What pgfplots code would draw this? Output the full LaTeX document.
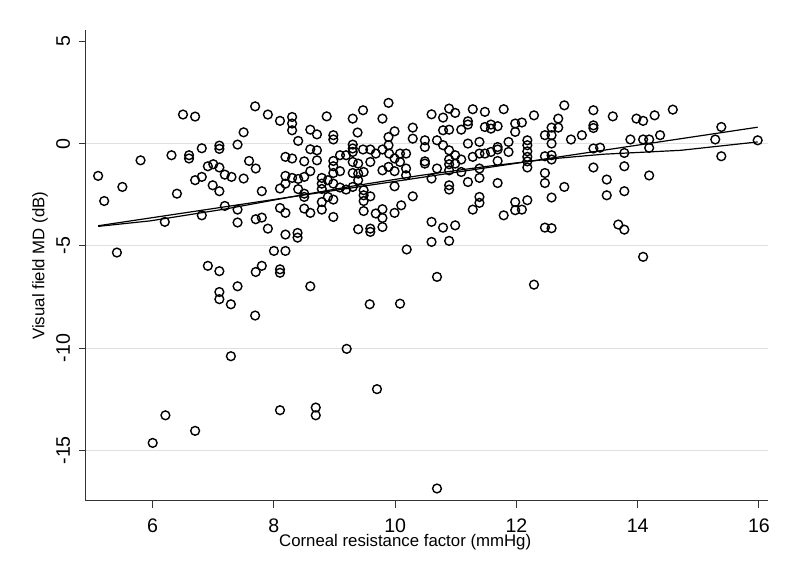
\documentclass[border=0pt]{standalone}
\usepackage{fontspec}
\setmainfont{Liberation Sans}
\usepackage{pgfplots}
\pgfplotsset{compat=1.18}
\begin{document}
\begin{tikzpicture}
\useasboundingbox (-43pt,-43pt) rectangle (357pt,250.5pt);
\begin{axis}[
  at={(0,0)}, anchor=south west,
  scale only axis, width=341pt, height=235.35pt,
  xmin=4.9, xmax=16.15, ymin=-17.48, ymax=5.54,
  axis x line*=bottom, axis y line*=left,
  xtick={6,8,10,12,14,16},
  ytick={-15,-10,-5,0}, extra y ticks={5}, extra y tick style={ymajorgrids=false},
  ymajorgrids, major grid style={draw=black!12, line width=0.5pt},
  tick align=outside, major tick length=3.3pt,
  tick style={black!80, line width=0.5pt},
  axis line style={black!80, line width=0.5pt},
  /pgf/number format/assume math mode=true,
  ticklabel style={font=\fontsize{9.8}{10}\selectfont, inner sep=0pt},
  xticklabel style={anchor=north},
  xticklabel shift=5.4pt,
  yticklabel style={rotate=90, anchor=base},
  yticklabel shift=4.7pt,
  label style={font=\fontsize{8.4}{10}\selectfont, inner sep=0pt},
  xlabel={Corneal resistance factor (mmHg)},
  ylabel={Visual field MD (dB)},
  xlabel style={at={(axis description cs:0.468,-0.0885)}, anchor=center},
  ylabel style={at={(axis description cs:-0.0674,0.5)}, anchor=center},
  clip=false,
]
\addplot[only marks, mark=o, mark size=2.2pt, mark options={line width=0.7pt, draw=black}] table {
x y
5.10 -1.58
5.20 -2.81
5.50 -2.12
5.41 -5.33
5.80 -0.82
6.20 -3.83
6.31 -0.57
6.40 -2.45
6.50 1.42
6.70 1.32
6.60 -0.57
6.60 -0.73
6.70 -1.79
6.81 -1.63
6.81 -0.23
6.81 -3.51
6.91 -1.11
7.00 -1.01
7.10 -1.17
6.99 -2.04
7.10 -2.33
7.10 -0.10
7.10 -0.26
7.19 -1.52
7.30 -1.63
7.19 -3.05
7.40 -3.23
7.40 -0.05
7.50 0.55
7.59 -0.85
7.70 -1.22
7.50 -1.71
7.40 -3.86
7.69 1.82
7.80 -2.33
7.70 -3.70
7.80 -3.62
7.90 -4.16
7.90 1.42
8.10 1.11
8.00 -5.25
8.19 -5.25
6.91 -5.98
7.10 -6.24
7.70 -6.28
7.80 -5.98
8.10 -6.15
8.10 -6.32
8.10 -2.20
8.10 -3.15
8.19 -0.65
8.30 -0.73
8.19 -1.58
8.19 -1.96
8.19 -3.39
8.19 -4.45
8.39 -4.37
8.39 -4.60
8.30 -1.68
8.40 -1.73
8.40 -2.23
8.40 0.13
8.30 1.30
8.30 0.98
8.30 0.65
8.50 -0.87
8.50 -1.63
8.50 -2.45
8.50 -2.61
8.50 -3.18
8.60 0.68
8.71 0.45
8.60 -0.28
8.71 -0.33
8.71 -0.82
8.60 -1.35
8.60 -3.39
8.79 -1.68
8.79 -1.96
8.79 -2.22
8.79 -2.86
8.79 -3.23
8.87 1.33
8.89 -1.79
8.89 -2.61
7.10 -7.26
7.10 -7.61
7.40 -6.98
7.29 -7.86
7.69 -8.41
8.60 -6.98
7.29 -10.40
9.58 -7.86
10.08 -7.83
10.69 -6.52
12.29 -6.90
9.20 -10.04
9.70 -12.01
10.19 -5.18
14.09 -5.54
6.00 -14.64
6.21 -13.29
6.70 -14.05
8.10 -13.04
8.69 -12.91
8.69 -13.29
10.69 -16.87
8.98 0.41
8.98 0.20
8.98 -0.85
8.98 -1.11
8.98 -1.44
8.98 -1.96
8.98 -2.74
8.98 -3.59
9.09 -0.57
9.09 -1.35
9.09 -2.15
9.19 -0.57
9.19 -2.25
9.30 1.22
9.30 -0.05
9.30 -0.24
9.30 -0.41
9.30 -0.90
9.30 -1.44
9.30 -2.12
9.38 0.54
9.39 -0.98
9.39 -1.47
9.39 -1.79
9.39 -4.19
9.47 1.63
9.47 -0.29
9.48 -1.39
9.48 -2.28
9.48 -2.53
9.48 -2.81
9.48 -3.30
9.59 -0.29
9.59 -0.90
9.59 -2.58
9.59 -4.16
9.59 -4.32
9.68 -0.49
9.68 -3.42
9.79 1.22
9.79 -0.29
9.79 -1.31
9.79 -3.21
9.79 -3.64
9.79 -4.08
9.89 1.99
9.89 0.32
9.89 -0.08
9.89 -1.14
9.90 -0.49
9.99 0.60
9.99 -0.73
9.99 -1.35
9.99 -2.09
9.99 -3.39
10.08 -0.49
10.08 -0.90
10.10 -3.02
10.18 -0.49
10.18 -1.22
10.18 -1.55
10.29 0.78
10.29 0.24
10.29 -2.58
10.49 0.16
10.49 -0.17
10.49 -0.87
10.49 -0.98
10.60 1.43
10.60 -1.71
10.60 -3.83
10.60 -4.81
10.69 0.16
10.69 -1.22
10.79 1.27
10.79 0.65
10.79 -0.08
10.79 -4.11
10.89 1.71
10.89 0.68
10.89 -0.33
10.89 -0.78
10.89 -1.01
10.89 -1.31
10.89 -2.04
10.89 -2.25
10.89 -4.76
10.99 1.50
10.99 -0.57
10.99 -0.98
10.99 -4.00
11.09 0.68
11.09 -0.78
11.09 -1.39
11.20 1.09
11.20 0.93
11.20 0.00
11.20 -1.88
11.28 1.68
11.28 -0.65
11.28 -3.23
11.39 0.08
11.39 -0.49
11.39 -1.22
11.39 -1.68
11.39 -2.61
11.39 -2.90
11.48 1.55
11.48 0.81
11.48 -0.49
11.58 0.93
11.58 0.73
11.58 -0.41
11.69 0.85
11.69 -0.17
11.69 -0.29
11.69 -0.85
11.69 -1.93
11.79 1.68
11.79 -3.51
11.87 0.08
11.87 -0.41
11.98 0.98
11.98 0.57
11.98 -2.86
11.98 -3.26
12.09 1.03
12.09 -3.23
12.18 0.16
12.18 -0.08
12.18 -0.38
12.18 -0.65
12.18 -0.87
12.18 -1.17
12.18 -2.77
12.29 1.38
12.47 0.41
12.47 -0.62
12.47 -1.44
12.47 -1.93
12.47 -4.11
12.58 0.78
12.58 0.41
12.58 0.00
12.58 -0.57
12.58 -0.78
12.58 -2.64
12.58 -4.14
12.69 1.22
12.69 0.78
12.79 1.87
12.79 -2.12
12.90 0.20
13.08 0.41
13.27 1.63
13.27 0.89
13.27 0.76
13.27 -0.24
13.27 -1.17
13.38 -0.20
13.49 -1.76
13.49 -2.53
13.59 1.33
13.68 -3.96
13.78 -4.21
13.78 -0.46
13.78 -1.11
13.78 -2.33
13.88 0.20
13.98 1.22
14.09 1.11
14.09 0.20
14.19 0.20
14.19 -0.21
14.19 -1.56
14.28 1.38
14.37 0.41
14.58 1.66
15.28 0.20
15.38 0.81
15.38 -0.62
15.98 0.16
};
\addplot[black, line width=0.6pt] coordinates {(5.10,-4.02) (15.98,0.80)};
\addplot[black, line width=0.6pt] coordinates {
(5.10,-4.05) (5.96,-3.78) (7.20,-3.20) (8.26,-2.62) (9.30,-2.08) (10.41,-1.56)
(11.50,-1.12) (12.56,-0.75) (13.44,-0.52) (14.71,-0.33) (15.98,0.08)};
\end{axis}
\end{tikzpicture}
\end{document}
